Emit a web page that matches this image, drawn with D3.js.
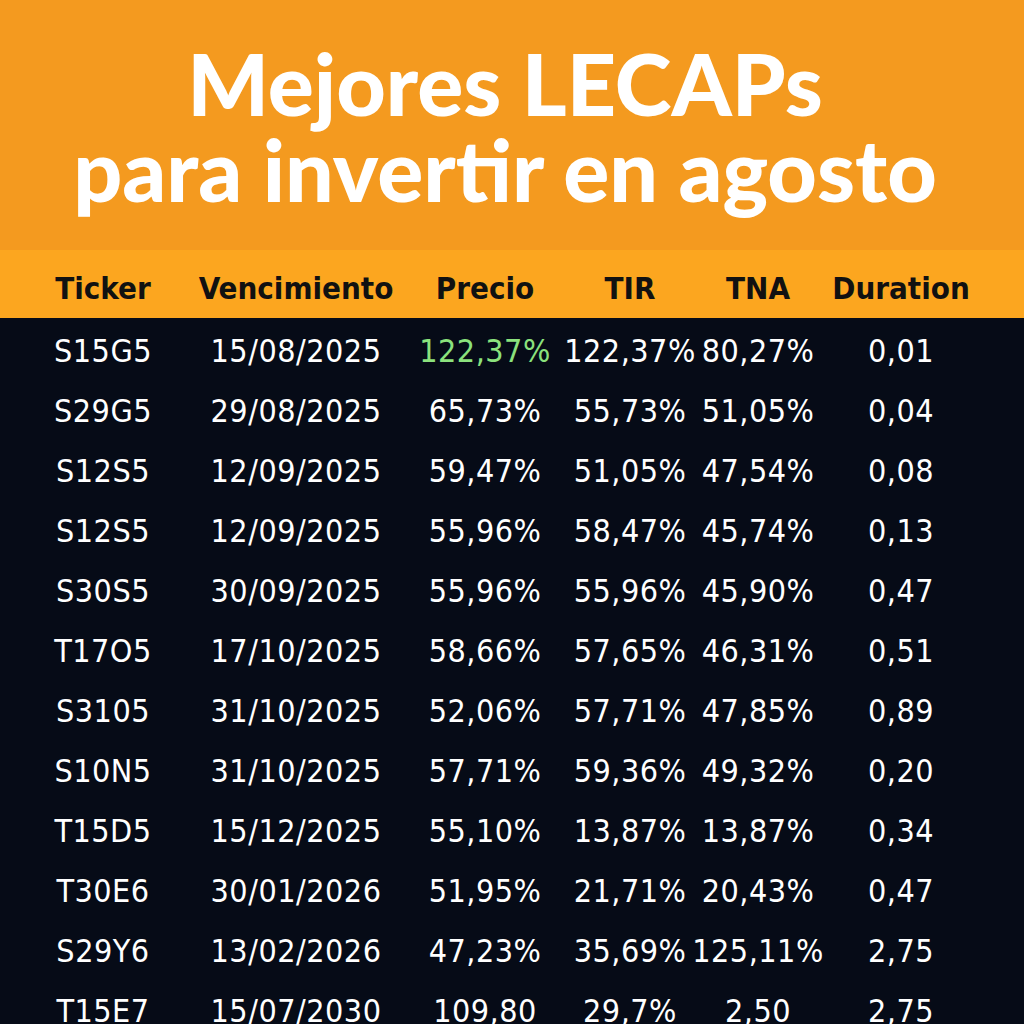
<!DOCTYPE html>
<html><head><meta charset="utf-8">
<script src="https://cdn.jsdelivr.net/npm/d3@7"></script>
<style>body{margin:0;background:#060b17}</style></head>
<body><script>
const titleLines = ["Mejores LECAPs", "para invertir en agosto"];
const columns = ["Ticker", "Vencimiento", "Precio", "TIR", "TNA", "Duration"];
const tickers = ["S15G5","S29G5","S12S5","S12S5","S30S5","T17O5","S3105","S10N5","T15D5","T30E6","S29Y6","T15E7"];
const vencimientos = ["15/08/2025","29/08/2025","12/09/2025","12/09/2025","30/09/2025","17/10/2025","31/10/2025","31/10/2025","15/12/2025","30/01/2026","13/02/2026","15/07/2030"];
const precios = ["122,37%","65,73%","59,47%","55,96%","55,96%","58,66%","52,06%","57,71%","55,10%","51,95%","47,23%","109,80"];
const tirs = ["122,37%","55,73%","51,05%","58,47%","55,96%","57,65%","57,71%","59,36%","13,87%","21,71%","35,69%","29,7%"];
const tnas = ["80,27%","51,05%","47,54%","45,74%","45,90%","46,31%","47,85%","49,32%","13,87%","20,43%","125,11%","2,50"];
const durations = ["0,01","0,04","0,08","0,13","0,47","0,51","0,89","0,20","0,34","0,47","2,75","2,75"];

const W = 1024, H = 1024;
const svg = d3.select("body").append("svg").attr("width", W).attr("height", H);
svg.append("rect").attr("width", W).attr("height", H).attr("fill", "#060b17");
svg.append("rect").attr("width", W).attr("height", 252).attr("fill", "#f49a1f");
svg.append("rect").attr("y", 250).attr("width", W).attr("height", 68).attr("fill", "#fca61f");

svg.selectAll("text.title").data(titleLines).join("text")
  .attr("x", 505).attr("y", (d, i) => 116 + i * 86)
  .attr("text-anchor", "middle").attr("fill", "#fff")
  .style("font-family", "Lato, 'Open Sans', sans-serif").style("font-weight", 900)
  .style("font-size", "86px").text(d => d);

const colX = d3.scaleOrdinal().domain(columns).range([103, 296, 485, 630, 758, 901]);
const rowY = d3.scaleBand().domain(d3.range(tickers.length)).range([320, 1040]);

svg.selectAll("text.head").data(columns).join("text")
  .attr("x", d => colX(d)).attr("y", 299).attr("text-anchor", "middle")
  .attr("fill", "#111").style("font-family", "'DejaVu Sans Condensed', sans-serif")
  .style("font-weight", 700).style("font-size", "31px").text(d => d);

const cols = [tickers, vencimientos, precios, tirs, tnas, durations];
const cells = [];
cols.forEach((arr, c) => arr.forEach((v, r) => cells.push({c, r, v})));
svg.selectAll("text.cell").data(cells).join("text")
  .attr("x", d => colX(columns[d.c])).attr("y", d => rowY(d.r) + rowY.bandwidth() / 2 + 12)
  .attr("text-anchor", "middle")
  .attr("fill", d => (d.c === 2 && d.r === 0) ? "#8be27d" : "#fff")
  .style("font-family", "'DejaVu Sans Condensed', sans-serif")
  .style("font-size", "32px").style("letter-spacing", "0.5px").text(d => d.v);
</script></body></html>
